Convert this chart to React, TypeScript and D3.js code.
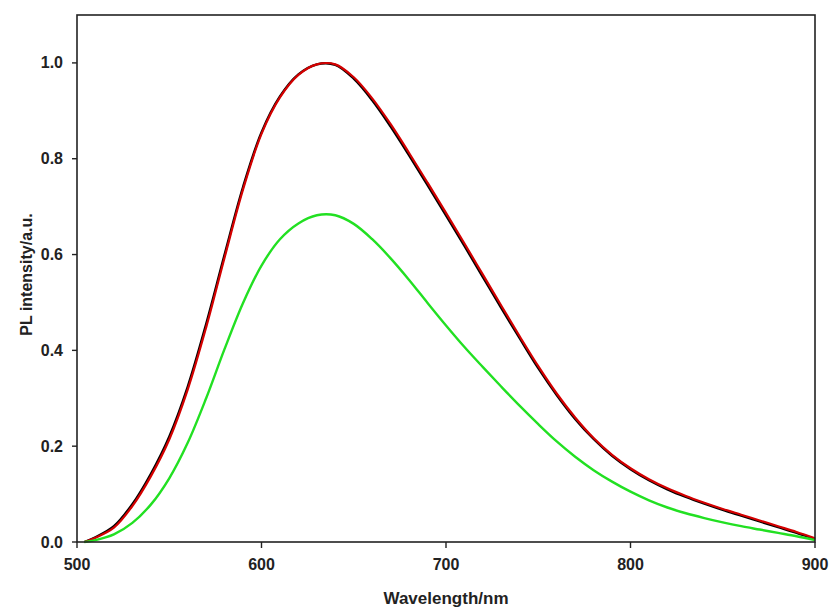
import React from "react";
import * as d3 from "d3";

const wavelengths = [
  504, 510, 520, 530, 540, 550, 560, 570, 580, 590, 600, 610, 620, 630, 640, 650, 660, 670, 680, 690, 700,
  710, 720, 730, 740, 750, 760, 770, 780, 790, 800, 810, 820, 830, 840, 850, 860, 870, 880, 890, 900,
];

const redSeries = [
  0.0, 0.009, 0.03, 0.075, 0.137, 0.214, 0.318, 0.448, 0.594, 0.736, 0.852, 0.928, 0.975, 0.997, 0.997, 0.97, 0.926, 0.872, 0.812, 0.75, 0.687,
  0.623, 0.558, 0.493, 0.429, 0.367, 0.31, 0.26, 0.217, 0.182, 0.154, 0.131, 0.112, 0.096, 0.082, 0.069, 0.057, 0.045, 0.033, 0.021, 0.008,
];

const blackSeries = [
  0.0, 0.01, 0.033, 0.079, 0.142, 0.22, 0.324, 0.455, 0.6, 0.741, 0.855, 0.93, 0.976, 0.997, 0.996, 0.967, 0.922, 0.867, 0.807, 0.745, 0.682,
  0.618, 0.553, 0.488, 0.425, 0.363, 0.307, 0.257, 0.215, 0.18, 0.152, 0.129, 0.11, 0.094, 0.08, 0.067, 0.055, 0.043, 0.031, 0.019, 0.006,
];

const greenSeries = [
  0.0, 0.004, 0.016, 0.04, 0.078, 0.133, 0.207, 0.3, 0.403, 0.499, 0.577, 0.632, 0.665, 0.682, 0.682, 0.664, 0.632, 0.592, 0.547, 0.499, 0.452,
  0.407, 0.365, 0.324, 0.284, 0.246, 0.21, 0.178, 0.15, 0.126, 0.105, 0.087, 0.072, 0.06, 0.05, 0.041, 0.033, 0.026, 0.019, 0.012, 0.004,
];

const xTicks = [500, 600, 700, 800, 900];
const yTicks = [0, 0.2, 0.4, 0.6, 0.8, 1.0];

const W = 831;
const H = 610;
const left = 77;
const right = 815;
const top = 15;
const bottom = 542;

export default function App() {
  const x = d3.scaleLinear().domain([500, 900]).range([left, right]);
  const y = d3.scaleLinear().domain([0, 1.1]).range([bottom, top]);
  const line = (vals: number[]) =>
    d3
      .line<number>()
      .x((_, i) => x(wavelengths[i]))
      .y((d) => y(d))
      .curve(d3.curveCatmullRom.alpha(0.5))(vals) || "";

  const font = "Arial, 'Liberation Sans', sans-serif";
  return (
    <svg
      width={W}
      height={H}
      style={{ position: "absolute", left: 0, top: 0, background: "#fff" }}
    >
      <path d={line(blackSeries)} fill="none" stroke="#000" strokeWidth={2.4} />
      <path d={line(redSeries)} fill="none" stroke="#d40000" strokeWidth={2.2} />
      <path d={line(greenSeries)} fill="none" stroke="#22e022" strokeWidth={2.4} />
      <rect
        x={left}
        y={top}
        width={right - left}
        height={bottom - top}
        fill="none"
        stroke="#222"
        strokeWidth={1.6}
      />
      {yTicks.map((t) => (
        <g key={"y" + t}>
          <line x1={left - 5} x2={left} y1={y(t)} y2={y(t)} stroke="#222" strokeWidth={1.4} />
          <text
            x={left - 14}
            y={y(t) + 5.5}
            textAnchor="end"
            fontFamily={font}
            fontWeight="bold"
            fontSize={16}
            fill="#222"
          >
            {t.toFixed(1)}
          </text>
        </g>
      ))}
      {xTicks.map((t) => (
        <g key={"x" + t}>
          <line x1={x(t)} x2={x(t)} y1={bottom} y2={bottom + 6} stroke="#222" strokeWidth={1.4} />
          <text
            x={x(t)}
            y={570}
            textAnchor="middle"
            fontFamily={font}
            fontWeight="bold"
            fontSize={16}
            fill="#222"
          >
            {t}
          </text>
        </g>
      ))}
      <text
        x={(left + right) / 2}
        y={604}
        textAnchor="middle"
        fontFamily={font}
        fontWeight="bold"
        fontSize={17}
        fill="#222"
      >
        Wavelength/nm
      </text>
      <text
        transform={`translate(32, ${(top + bottom) / 2 - 4}) rotate(-90)`}
        textAnchor="middle"
        fontFamily={font}
        fontWeight="bold"
        fontSize={16}
        fill="#222"
      >
        PL intensity/a.u.
      </text>
    </svg>
  );
}
